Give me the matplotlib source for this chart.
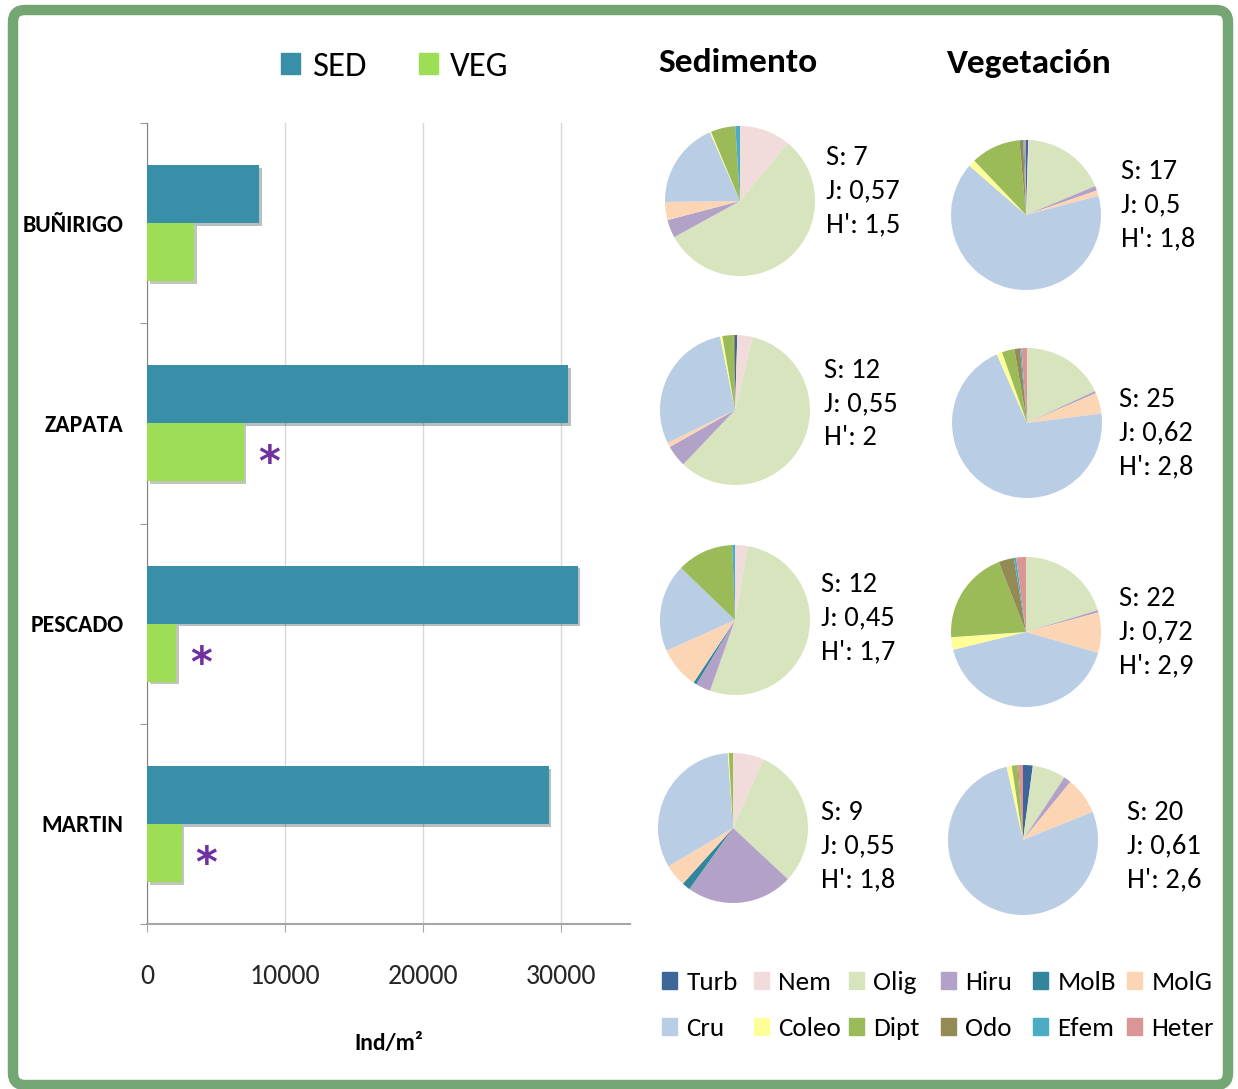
import numpy as np
import matplotlib
matplotlib.use('Agg')

import matplotlib.pyplot as plt
import matplotlib.patheffects as pe
from matplotlib.patches import Patch, FancyBboxPatch
from matplotlib import font_manager

# bar chart data
sites = ['BUÑIRIGO', 'ZAPATA', 'PESCADO', 'MARTIN']
sed_density = [8100, 30500, 31200, 29100]
veg_density = [3400, 7000, 2100, 2500]
veg_signif = [False, True, True, True]

# pie chart data (% of individuals per taxon)
taxa = ['Turb', 'Nem', 'Olig', 'Hiru', 'MolB', 'MolG',
        'Cru', 'Coleo', 'Dipt', 'Odo', 'Efem', 'Heter']
taxa_colors = ['#3d6699', '#f2dcdb', '#d7e4bd', '#b3a2c7', '#31859c', '#fcd5b5',
               '#b9cde5', '#ffff99', '#9bbb59', '#948a54', '#4bacc6', '#d99694']

sed_bun = [0, 11, 56, 3.9, 0, 3.9, 18.6, 0.3, 5.3, 0, 1.0, 0]
sed_zap = [0.5, 3.3, 58.3, 4.7, 0, 1.0, 29, 0.5, 2.4, 0.3, 0, 0]
sed_pes = [0, 2.7, 52.7, 3.2, 0.7, 9, 18.9, 0, 12.2, 0, 0.6, 0]
sed_mar = [0, 6.6, 30.3, 22.9, 1.8, 4.8, 32.4, 0.2, 0.9, 0, 0, 0]

veg_bun = [0.5, 0.2, 18, 1, 0, 1.2, 65.5, 1.5, 10.7, 0.8, 0.3, 0.3]
veg_zap = [0, 0, 18, 0.5, 0, 4.5, 70.4, 1.2, 2.7, 1.2, 0.3, 1.2]
veg_pes = [0, 0, 20.3, 0.5, 0, 8.7, 41.7, 2.7, 20.2, 3.3, 0.5, 2.1]
veg_mar = [2.1, 0.1, 7.1, 1.6, 0, 8, 77.6, 1.1, 1.2, 0.2, 0, 1.0]

# diversity indices
sed_S = ['7', '12', '12', '9']
sed_J = ['0,57', '0,55', '0,45', '0,55']
sed_H = ['1,5', '2', '1,7', '1,8']
veg_S = ['17', '25', '22', '20']
veg_J = ['0,5', '0,62', '0,72', '0,61']
veg_H = ['1,8', '2,8', '2,9', '2,6']

W, H = 1238, 1089

names = {f.name for f in font_manager.fontManager.ttflist}
FONT = 'Carlito' if 'Carlito' in names else 'DejaVu Sans'
plt.rcParams['font.family'] = [FONT, 'DejaVu Sans']


def box(x0, y0, x1, y1):
    # pixel box (top-left origin) -> figure fraction rect
    return [x0 / W, 1 - y1 / H, (x1 - x0) / W, (y1 - y0) / H]


def main():
    fig = plt.figure(figsize=(W / 100, H / 100), dpi=100)

    # green rounded frame
    bg = fig.add_axes([0, 0, 1, 1], zorder=-5)
    bg.set_xlim(0, W)
    bg.set_ylim(H, 0)
    bg.axis('off')
    bg.add_patch(FancyBboxPatch((13, 10), 1215, 1075,
                                boxstyle='round,pad=0,rounding_size=12',
                                fc='white', ec='#74a673', lw=7.5))

    # ---- bar chart ----
    ax = fig.add_axes(box(147, 123, 630, 924))
    y = np.arange(len(sites))
    h = 0.29
    shadow = [pe.SimplePatchShadow(offset=(2, -2), alpha=0.3), pe.Normal()]
    b1 = ax.barh(y - h / 2, sed_density, height=h, color='#3a8fa8', zorder=3)
    b2 = ax.barh(y + h / 2, veg_density, height=h, color='#9ede56', zorder=3)
    for r in list(b1) + list(b2):
        r.set_path_effects(shadow)
    for i, flag in enumerate(veg_signif):
        if flag:
            ax.annotate('*', xy=(veg_density[i], y[i] + h / 2), xytext=(25, -12),
                        textcoords='offset pixels', ha='center', va='center',
                        fontsize=30, fontweight='bold', color='#7030a0',
                        family='DejaVu Sans', zorder=4)

    ax.set_xlim(0, 35000)
    ax.set_ylim(3.5, -0.5)
    ax.set_xticks([0, 10000, 20000, 30000])
    ax.set_xticklabels(['0', '10000', '20000', '30000'])
    ax.set_yticks(y)
    ax.set_yticklabels(sites, fontweight='bold', fontsize=17)
    ax.set_yticks(np.arange(-0.5, 4, 1), minor=True)
    ax.tick_params(axis='y', which='major', length=0, pad=17)
    ax.tick_params(axis='y', which='minor', length=5, color='#808080')
    ax.tick_params(axis='x', length=5.8, color='#a6a6a6', labelsize=20, pad=23,
                   labelcolor='#262626')
    ax.grid(axis='x', color='#d9d9d9', lw=1, zorder=0)
    for s in ['top', 'right']:
        ax.spines[s].set_visible(False)
    ax.spines['left'].set_color('#808080')
    ax.spines['bottom'].set_color('#a6a6a6')
    ax.spines['bottom'].set_linewidth(1.5)
    ax.set_xlabel('Ind/m²', fontsize=17, fontweight='bold', labelpad=32)

    fig.legend([Patch(color='#3a8fa8'), Patch(color='#9ede56')], ['SED', 'VEG'],
               loc='center', bbox_to_anchor=(395 / W, 1 - 67 / H), ncol=2,
               frameon=False, fontsize=25, handlelength=0.55, handleheight=0.55,
               handletextpad=0.35, columnspacing=1.5)

    # ---- pies ----
    fig.text(738 / W, 1 - 63 / H, 'Sedimento', ha='center', va='center',
             fontsize=25.5, fontweight='bold')
    fig.text(1029 / W, 1 - 63 / H, 'Vegetación', ha='center', va='center',
             fontsize=25.5, fontweight='bold')

    sed_pies = [sed_bun, sed_zap, sed_pes, sed_mar]
    veg_pies = [veg_bun, veg_zap, veg_pes, veg_mar]
    sed_centers = [(740, 201), (735, 410), (735, 620), (733, 828)]
    veg_centers = [(1026, 215), (1027, 423), (1026, 632), (1023, 840)]
    sed_txt = [(826, 191), (824, 404), (821, 618), (821, 846)]
    veg_txt = [(1121, 205), (1119, 433), (1119, 632), (1127, 846)]
    r = 75

    for i in range(4):
        for vals, (cx, cy), (tx, ty), S, J, Hh in [
                (sed_pies[i], sed_centers[i], sed_txt[i], sed_S[i], sed_J[i], sed_H[i]),
                (veg_pies[i], veg_centers[i], veg_txt[i], veg_S[i], veg_J[i], veg_H[i])]:
            pax = fig.add_axes(box(cx - r, cy - r, cx + r, cy + r))
            pax.pie(vals, colors=taxa_colors, startangle=90, counterclock=False,
                    wedgeprops=dict(linewidth=0))
            pax.set_xlim(-1, 1)
            pax.set_ylim(-1, 1)
            for k, line in enumerate(['S: ' + S, 'J: ' + J, "H': " + Hh]):
                fig.text(tx / W, 1 - (ty + (k - 1) * 33.5) / H, line,
                         ha='left', va='center', fontsize=20.5)

    # legend of taxa: one legend per column, two rows each
    col_x = [662, 754, 849, 941, 1033, 1127]
    for c, x in enumerate(col_x):
        idx = [c, c + 6]
        fig.legend([Patch(color=taxa_colors[k]) for k in idx], [taxa[k] for k in idx],
                   loc='upper left', bbox_to_anchor=(x / W, 1 - 971 / H),
                   frameon=False, fontsize=19.5, handlelength=0.55, handleheight=0.55,
                   handletextpad=0.35, labelspacing=0.85, borderpad=0, borderaxespad=0)

    fig.savefig('out.png', dpi=100)


if __name__ == '__main__':
    main()
